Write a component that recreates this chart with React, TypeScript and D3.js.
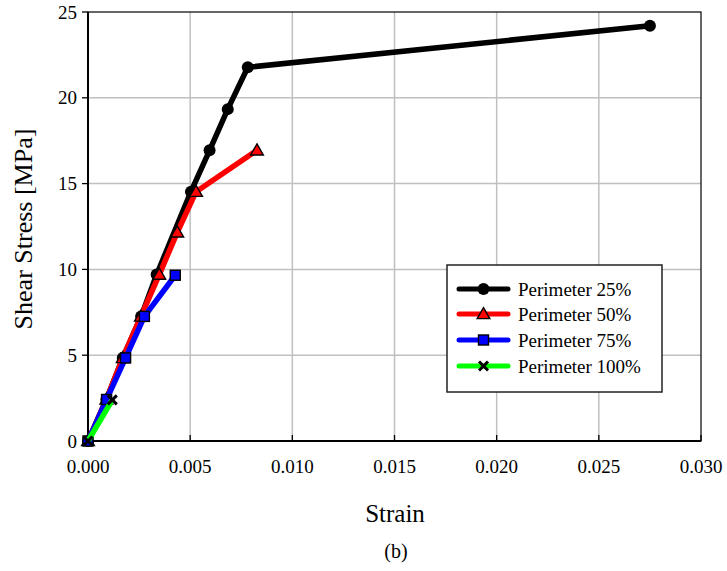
import React from 'react'
import * as d3 from 'd3'

// Data
const p25Strain = [0, 0.0009, 0.0017, 0.0026, 0.00336, 0.00504, 0.00595, 0.00684, 0.00782, 0.0275]
const p25Stress = [0, 2.42, 4.84, 7.26, 9.7, 14.53, 16.94, 19.34, 21.78, 24.2]
const p50Strain = [0, 0.0009, 0.0017, 0.00259, 0.00349, 0.00437, 0.00529, 0.00827]
const p50Stress = [0, 2.42, 4.84, 7.26, 9.7, 12.16, 14.53, 16.94]
const p75Strain = [0, 0.00091, 0.00184, 0.00276, 0.00427]
const p75Stress = [0, 2.42, 4.84, 7.26, 9.66]
const p100Strain = [0, 0.00119]
const p100Stress = [0, 2.4]

const xTicks = [0, 0.005, 0.01, 0.015, 0.02, 0.025, 0.03]
const yTicks = [0, 5, 10, 15, 20, 25]

const series = [
  { name: 'Perimeter 25%', color: '#000000', marker: 'circle', xs: p25Strain, ys: p25Stress },
  { name: 'Perimeter 50%', color: '#ff0000', marker: 'triangle', xs: p50Strain, ys: p50Stress },
  { name: 'Perimeter 75%', color: '#0000ff', marker: 'square', xs: p75Strain, ys: p75Stress },
  { name: 'Perimeter 100%', color: '#00ff00', marker: 'cross', xs: p100Strain, ys: p100Stress },
]

const font = "'Liberation Serif', 'DejaVu Serif', serif"

function Marker({ type, x, y, color }: { type: string; x: number; y: number; color: string }) {
  if (type === 'circle') return <circle cx={x} cy={y} r={6} fill="#000" />
  if (type === 'triangle') {
    const p = d3.symbol(d3.symbolTriangle, 70)()
    return <path d={p || ''} transform={`translate(${x},${y + 1})`} fill={color} stroke="#000" strokeWidth={1.4} />
  }
  if (type === 'square') return <rect x={x - 5} y={y - 5} width={10} height={10} fill={color} stroke="#000" strokeWidth={1.4} />
  return (
    <g stroke="#000" strokeWidth={3}>
      <line x1={x - 4.5} y1={y - 4.5} x2={x + 4.5} y2={y + 4.5} />
      <line x1={x - 4.5} y1={y + 4.5} x2={x + 4.5} y2={y - 4.5} />
    </g>
  )
}

export default function App() {
  const W = 727, H = 571
  const left = 88, right = 701, top = 12, bottom = 441

  const x = d3.scaleLinear().domain([0, 0.03]).range([left, right])
  const y = d3.scaleLinear().domain([0, 25]).range([bottom, top])
  const line = d3.line<[number, number]>().x(d => x(d[0])).y(d => y(d[1]))

  const legX = 447, legY = 265, legW = 215, legH = 127
  const rowY = [289, 314, 340, 366]

  return (
    <svg width={W} height={H} style={{ position: 'absolute', left: 0, top: 0, background: '#fff', fontFamily: font }}>
      {/* grid */}
      {xTicks.slice(1, -1).map(t => (
        <line key={'gx' + t} x1={x(t)} x2={x(t)} y1={top} y2={bottom} stroke="#c0c0c0" strokeWidth={1.5} />
      ))}
      {yTicks.slice(1, -1).map(t => (
        <line key={'gy' + t} x1={left} x2={right} y1={y(t)} y2={y(t)} stroke="#c0c0c0" strokeWidth={1.5} />
      ))}
      {/* frame */}
      <rect x={left} y={top} width={right - left} height={bottom - top} fill="none" stroke="#000" strokeWidth={1.2} />
      <line x1={left} x2={left} y1={top} y2={bottom} stroke="#000" strokeWidth={2} />
      <line x1={left} x2={right} y1={bottom} y2={bottom} stroke="#000" strokeWidth={2} />
      {/* ticks */}
      {yTicks.map(t => (
        <g key={'yt' + t}>
          <line x1={left - 6} x2={left} y1={y(t)} y2={y(t)} stroke="#000" strokeWidth={1.3} />
          <text x={left - 11} y={y(t)} dy="0.35em" textAnchor="end" fontSize={19} style={{ fontFamily: font }}>{t}</text>
        </g>
      ))}
      {xTicks.map(t => (
        <g key={'xt' + t}>
          <line x1={x(t)} x2={x(t)} y1={bottom} y2={bottom - 6} stroke="#000" strokeWidth={1.3} />
          <text x={x(t)} y={466} dy="0.35em" textAnchor="middle" fontSize={19} style={{ fontFamily: font }}>{d3.format('.3f')(t)}</text>
        </g>
      ))}
      {/* series */}
      {series.map(s => {
        const pts = s.xs.map((v, i) => [v, s.ys[i]] as [number, number])
        return (
          <g key={s.name}>
            <path d={line(pts) || ''} fill="none" stroke={s.color} strokeWidth={5.5} strokeLinejoin="round" />
            {pts.map((p, i) => <Marker key={i} type={s.marker} x={x(p[0])} y={y(p[1])} color={s.color} />)}
          </g>
        )
      })}
      {/* legend */}
      <rect x={legX} y={legY} width={legW} height={legH} fill="#fff" stroke="#222" strokeWidth={1.5} />
      {series.map((s, i) => (
        <g key={'leg' + s.name}>
          <line x1={459} x2={508} y1={rowY[i]} y2={rowY[i]} stroke={s.color} strokeWidth={5} strokeLinecap="round" />
          <Marker type={s.marker} x={483.5} y={rowY[i]} color={s.color} />
          <text x={518} y={rowY[i]} dy="0.35em" fontSize={19} style={{ fontFamily: font }}>{s.name}</text>
        </g>
      ))}
      {/* titles */}
      <text transform={`translate(23,229) rotate(-90)`} textAnchor="middle" dy="0.35em" fontSize={26} style={{ fontFamily: font }}>Shear Stress [MPa]</text>
      <text x={395} y={513} dy="0.35em" textAnchor="middle" fontSize={25} style={{ fontFamily: font }}>Strain</text>
      <text x={396} y={551} dy="0.35em" textAnchor="middle" fontSize={20} style={{ fontFamily: font }}>(b)</text>
    </svg>
  )
}
